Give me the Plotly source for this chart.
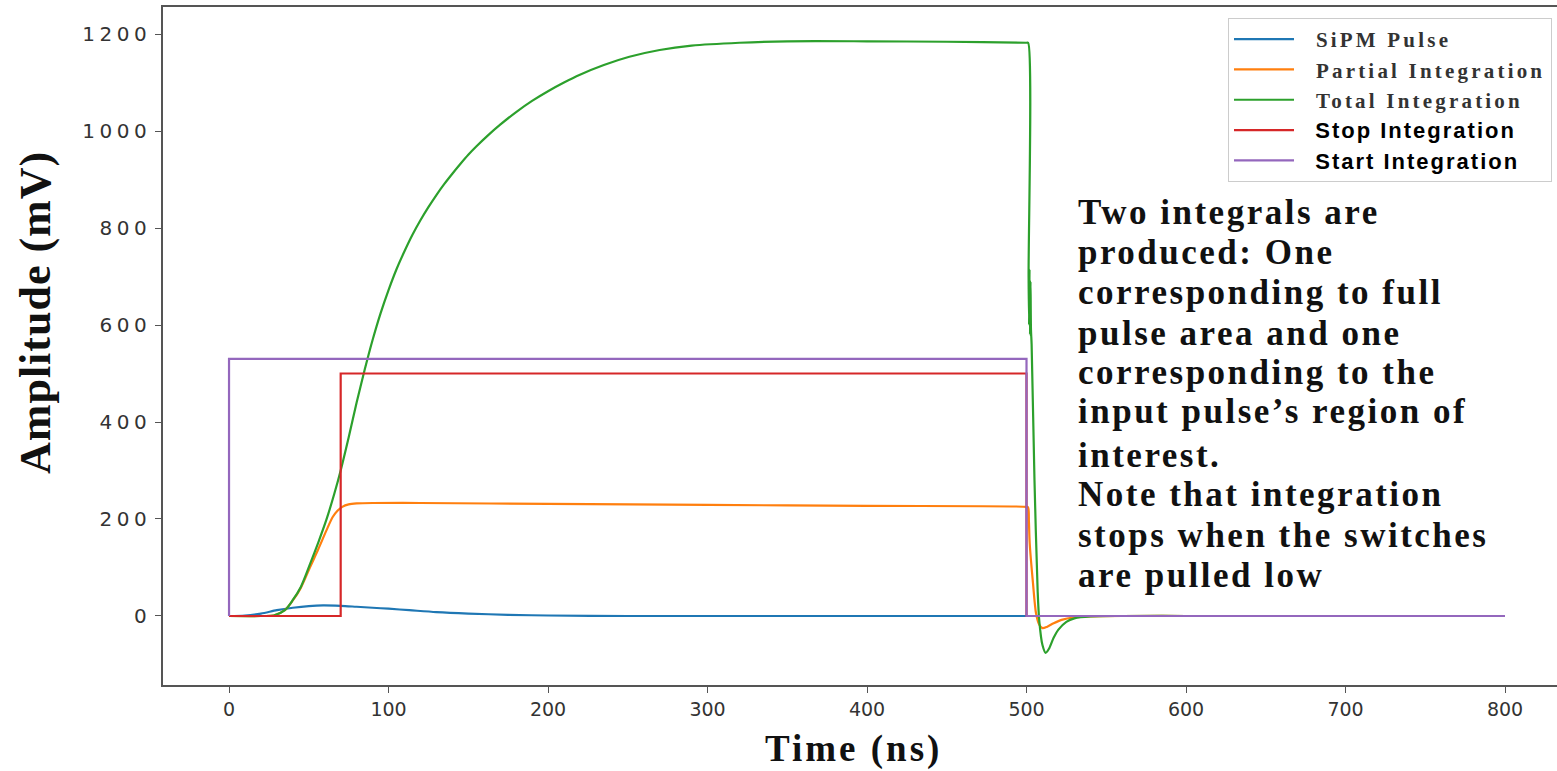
import plotly.graph_objects as go

# ---- data ----
sipm_t = [0, 10, 20, 30, 40, 50, 59, 70, 80, 90, 100, 113, 130, 150, 175, 200, 250, 300, 400, 500, 600, 700, 800]
sipm_v = [0, 1, 5, 12, 17, 20.5, 22, 21, 19, 17, 15, 12, 8, 5, 2.5, 1, 0, 0, 0, 0, 0, 0, 0]

partial_t = [0, 20, 28, 35, 40, 45, 51, 56, 61, 65, 68, 71, 75, 80, 90, 120, 200, 300, 400, 500,
             501, 501.5, 502, 504, 506, 508, 510, 513, 517, 522, 530, 540, 560, 600, 700, 800]
partial_v = [0, 0, 1, 12, 32, 58, 102, 138, 176, 204, 217, 225, 230, 232, 233, 233, 231, 229, 227, 225,
             224, 195, 150, 70, 5, -18, -25, -22, -15, -8, -3, -1, 0, 0, 0, 0]

total_t = [0, 20, 28, 35, 40, 45, 51, 56, 61, 66, 70, 75, 80, 85, 90, 95, 100, 105, 110, 115, 120,
           125, 130, 135, 140, 145, 150, 155, 162, 170, 180, 190, 200, 210, 220, 235, 251, 270, 290, 320,
           350, 400, 450, 500,
           501, 501.3, 501.6, 501.9, 502.2, 502.5, 502.8, 503.2, 505, 507, 508, 510, 512, 514,
           517, 520, 525, 530, 540, 560, 600, 700, 800]
total_v = [0, 0, 1, 12, 33, 60, 109, 152, 198, 252, 300, 368, 440, 507, 569, 624, 672, 715, 752, 786, 816,
           843, 868, 891, 912, 932, 951, 968, 990, 1013, 1039, 1062, 1082, 1100, 1116, 1136, 1153, 1167, 1176, 1182,
           1185, 1185, 1184, 1182,
           1182, 700, 600, 715, 580, 690, 590, 560, 280, 50, -10, -60, -76, -68,
           -45, -28, -12, -5, -1, 0, 0, 0, 0]

stop_t = [0, 70, 70, 500, 500, 800]
stop_v = [0, 0, 500, 500, 0, 0]

start_t = [0, 0, 500, 500, 800]
start_v = [0, 530, 530, 0, 0]

x_ticks = [0, 100, 200, 300, 400, 500, 600, 700, 800]
y_ticks = [0, 200, 400, 600, 800, 1000, 1200]

note_lines = [
    "Two integrals are",
    "produced: One",
    "corresponding to full",
    "pulse area and one",
    "corresponding to the",
    "input pulse\u2019s region of",
    "interest.",
    "Note that integration",
    "stops when the switches",
    "are pulled low",
]

# ---- styling ----
serif_leg = "font-family:'Liberation Serif','Times New Roman',serif;font-weight:bold;font-size:21px;fill:#333;letter-spacing:3.2px"
sans_leg = "font-family:'Liberation Sans',Arial,sans-serif;font-weight:bold;font-size:22px;fill:#000;letter-spacing:2.0px"

series = [
    ("SiPM Pulse", sipm_t, sipm_v, "#1f77b4", serif_leg, "spline"),
    ("Partial Integration", partial_t, partial_v, "#ff7f0e", serif_leg, "spline"),
    ("Total Integration", total_t, total_v, "#2ca02c", serif_leg, "spline"),
    ("Stop Integration", stop_t, stop_v, "#d62728", sans_leg, "linear"),
    ("Start Integration", start_t, start_v, "#9467bd", sans_leg, "linear"),
]

fig = go.Figure()
for i, (name, t, v, color, sty, shape) in enumerate(series):
    line = dict(color=color, width=2.2, shape=shape)
    if shape == "spline":
        line["smoothing"] = 0.8
    fig.add_trace(go.Scatter(
        x=t, y=v, mode="lines", line=line,
        name=f"<span style=\"{sty}\">&nbsp;&nbsp;{name}</span>", legendgroup=f"g{i}",
    ))

W, H = 1557, 771
L, R, T, B = 163, 0, 7, 86
pw, ph = W - L - R, H - T - B


def px_x(px):
    return (px - L) / pw


def px_y(py):
    return (H - B - py) / ph


fig.update_layout(
    width=W, height=H,
    margin=dict(l=L, r=R, t=T, b=B, autoexpand=False),
    paper_bgcolor="white", plot_bgcolor="white",
    showlegend=True,
    legend=dict(
        x=px_x(1228), y=px_y(18), xanchor="left", yanchor="top",
        bgcolor="white", bordercolor="#cccccc", borderwidth=1,
        font=dict(size=21, color="#333"),
        tracegroupgap=0, itemwidth=60,
    ),
    font=dict(family="DejaVu Sans", color="#333"),
)

fig.update_xaxes(
    range=[-41.4, 832.6], tickvals=x_ticks, ticktext=[str(v) for v in x_ticks],
    showgrid=False, zeroline=False, showline=True, linecolor="#555", linewidth=1.5,
    mirror=True, ticks="outside", ticklen=6, tickcolor="#555",
    tickfont=dict(family="DejaVu Sans", size=19, color="#333"),
)
fig.update_yaxes(
    range=[-142.3, 1255.7], tickvals=y_ticks,
    ticktext=[f"<span style='letter-spacing:4.5px'>{v}</span>" for v in y_ticks],
    showgrid=False, zeroline=False, showline=True, linecolor="#555", linewidth=1.5,
    ticks="outside", ticklen=6, tickcolor="#555",
    tickfont=dict(family="DejaVu Sans", size=20, color="#333"),
)

annotations = [
    dict(text="<span style='letter-spacing:1px'>Amplitude (mV)</span>", xref="paper", yref="paper",
         x=px_x(35), y=px_y(313),
         textangle=-90, showarrow=False, xanchor="center", yanchor="middle",
         font=dict(family="Liberation Serif", size=44, color="#111", weight="bold")),
    dict(text="<span style='letter-spacing:3px'>Time (ns)</span>", xref="paper", yref="paper",
         x=px_x(853), y=px_y(749),
         showarrow=False, xanchor="center", yanchor="middle",
         font=dict(family="Liberation Serif", size=37, color="#111", weight="bold")),
]
line_y = [212, 252, 292, 333, 373, 412, 455, 495, 535, 575]
for txt, yy in zip(note_lines, line_y):
    annotations.append(dict(
        text=f"<span style='letter-spacing:2.5px'>{txt}</span>",
        xref="paper", yref="paper", x=px_x(1076), y=px_y(yy),
        showarrow=False, xanchor="left", yanchor="middle",
        font=dict(family="Liberation Serif", size=35, color="#111", weight="bold"),
    ))
fig.update_layout(annotations=annotations)

fig.write_html("out.html")
